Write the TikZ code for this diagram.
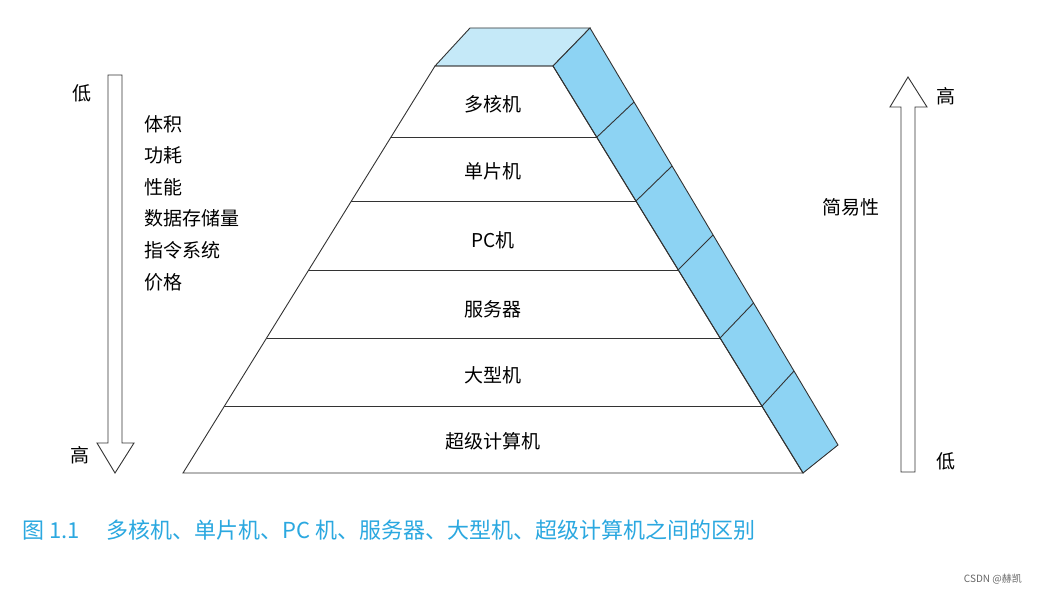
\documentclass[tikz,border=0pt]{standalone}
\usepackage{fontspec}
\newfontfamily\cjk{Noto Sans CJK SC}
\begin{document}
\begin{tikzpicture}[x=1pt,y=-1pt,
  lbl/.style={font=\cjk\fontsize{19}{19}\selectfont,inner sep=0pt},
  edge/.style={draw=black!80,line width=0.9pt}]
\useasboundingbox (0,0) rectangle (1038,594);
\fill[white] (0,0) rectangle (1038,594);
% top face
\filldraw[edge,fill={rgb,255:red,197;green,233;blue,248}] (435,66) -- (470,28) -- (590,28) -- (553,66) -- cycle;
% side
\filldraw[edge,fill={rgb,255:red,141;green,211;blue,243}] (553,66) -- (590,28) -- (838,445) -- (803,473) -- cycle;
\foreach \fx/\fy/\bx/\by in {597/137/634/102, 636/201/672/166, 678/270/713/235, 720/338/753.5/303, 762/406/794/371}
  \draw[edge] (\fx,\fy) -- (\bx,\by);
% front
\draw[edge] (435,66) -- (553,66) -- (803,473) -- (183,473) -- cycle;
\foreach \y in {137,201,270,338,406}{
  \pgfmathsetmacro\xl{435-(\y-66)/407*252}
  \pgfmathsetmacro\xr{553+(\y-66)/407*250}
  \draw[edge] (\xl,\y) -- (\xr,\y);}
\node[lbl] (n1) at (493,104) {多核机};
\node[lbl] (n2) at (493,171) {单片机};
\node[lbl] (n3) at (493,240) {PC机};
\node[lbl] (n4) at (493,309) {服务器};
\node[lbl] (n5) at (493,375) {大型机};
\node[lbl] (n6) at (493,441) {超级计算机};
% left arrow
\draw[edge,fill=white] (108,75) -- (122,75) -- (122,443) -- (134,443) -- (115,473) -- (97,443) -- (108,443) -- cycle;
% right arrow
\draw[edge,fill=white] (901,472) -- (915,472) -- (915,107) -- (927,107) -- (908,77) -- (890,107) -- (901,107) -- cycle;
\node[lbl] (lo1) at (82,93) {低};
\node[lbl] (hi1) at (80,455) {高};
\node[lbl] (hi2) at (946,96) {高};
\node[lbl] (lo2) at (946,461) {低};
\node[lbl] (ease) at (851,207) {简易性};
\node[lbl,anchor=west,align=left,font=\cjk\fontsize{19}{31.6}\selectfont] (list) at (144,203) {体积\\功耗\\性能\\数据存储量\\指令系统\\价格};
\node[lbl,anchor=west,text={rgb,255:red,43;green,168;blue,224},font=\cjk\fontsize{22}{22}\selectfont] (cap) at (22,530) {图 1.1\quad\ 多核机、单片机、PC 机、服务器、大型机、超级计算机之间的区别};
\node[lbl,anchor=east,text=black!60,font=\cjk\fontsize{10}{10}\selectfont] (wm) at (1022,579) {CSDN @赫凯};
\end{tikzpicture}
\end{document}
